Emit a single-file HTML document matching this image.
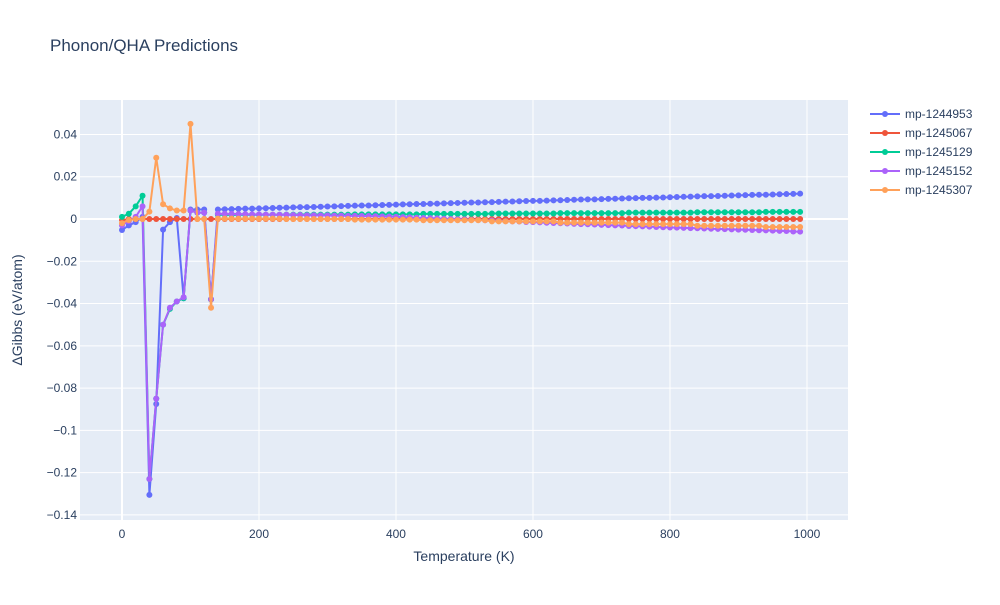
<!DOCTYPE html>
<html><head><meta charset="utf-8"><style>
body{margin:0;background:#fff;font-family:"Liberation Sans",Arial,sans-serif;}
svg text{font-family:"Liberation Sans",Arial,sans-serif;fill:#2a3f5f;}
</style></head><body>
<svg id="chart" width="1000" height="600" xmlns="http://www.w3.org/2000/svg">
<rect width="1000" height="600" fill="#fff"/>
<text x="50" y="51" font-size="17">Phonon/QHA Predictions</text>
<rect x="80" y="100" width="768" height="420" fill="#e5ecf6"/>
<g id="grid"></g><g id="series"></g><g id="ticks"></g>
<text x="464" y="561" font-size="14" text-anchor="middle">Temperature (K)</text>
<text transform="translate(22,310) rotate(-90)" font-size="14" text-anchor="middle">ΔGibbs (eV/atom)</text>
<g id="legend"></g>
</svg>
<script>
const seriesNames = ["mp-1244953","mp-1245067","mp-1245129","mp-1245152","mp-1245307"];
const seriesColors = ["#636efa","#EF553B","#00cc96","#ab63fa","#FFA15A"];
const xTicks = [0,200,400,600,800,1000];
const yTicks = [0.04,0.02,0,-0.02,-0.04,-0.06,-0.08,-0.1,-0.12,-0.14];
const yTickLabels = ["0.04","0.02","0","−0.02","−0.04","−0.06","−0.08","−0.1","−0.12","−0.14"];
const temps = [0,10,20,30,40,50,60,70,80,90,100,110,120,130,140,150,160,170,180,190,200,210,220,230,240,250,260,270,280,290,300,310,320,330,340,350,360,370,380,390,400,410,420,430,440,450,460,470,480,490,500,510,520,530,540,550,560,570,580,590,600,610,620,630,640,650,660,670,680,690,700,710,720,730,740,750,760,770,780,790,800,810,820,830,840,850,860,870,880,890,900,910,920,930,940,950,960,970,980,990];
const s1244953 = [-0.0052,-0.0030,-0.0015,0.0010,-0.1305,-0.0875,-0.0050,-0.0015,0.0005,-0.0375,0.0045,0.0045,0.0045,-0.0380,
0.0045,0.0046,0.0047,0.0048,0.0049,0.0049,0.0050,0.0051,0.0052,0.0053,0.0054,0.0055,0.0056,0.0056,0.0057,0.0058,0.0059,0.0060,0.0061,0.0062,0.0063,0.0064,0.0064,0.0065,0.0066,0.0067,0.0068,0.0069,0.0070,0.0071,0.0071,0.0072,0.0073,0.0074,0.0075,0.0076,0.0077,0.0078,0.0078,0.0079,0.0080,0.0081,0.0082,0.0083,0.0084,0.0085,0.0086,0.0086,0.0087,0.0088,0.0089,0.0090,0.0091,0.0092,0.0093,0.0093,0.0094,0.0095,0.0096,0.0097,0.0098,0.0099,0.0100,0.0100,0.0101,0.0102,0.0103,0.0104,0.0105,0.0106,0.0107,0.0108,0.0108,0.0109,0.0110,0.0111,0.0112,0.0113,0.0114,0.0115,0.0115,0.0116,0.0117,0.0118,0.0119,0.0120];
const s1245067 = [-0.0005,0,0,0,0,0,0,0,0,0,0,0,0,0,0,0,0,0,0,0,0,0,0,0,0,0,0,0,0,0,0,0,0,0,0,0,0,0,0,0,0,0,0,0,0,0,0,0,0,0,0,0,0,0,0,0,0,0,0,0,0,0,0,0,0,0,0,0,0,0,0,0,0,0,0,0,0,0,0,0,0,0,0,0,0,0,0,0,0,0,0,0,0,0,0,0,0,0,0,0];
const s1245129 = [0.0010,0.0025,0.0060,0.0110,-0.1230,-0.0850,-0.0500,-0.0425,-0.0390,-0.0375,0.0040,0.0030,0.0030,-0.0380,
0.0020,0.0020,0.0020,0.0020,0.0020,0.0020,0.0020,0.0020,0.0020,0.0020,
0.0021,0.0021,0.0021,0.0021,0.0021,0.0021,0.0021,0.0021,0.0021,0.0021,
0.0022,0.0022,0.0022,0.0022,0.0022,0.0022,0.0022,0.0022,0.0022,0.0022,
0.0024,0.0024,0.0024,0.0024,0.0024,0.0024,0.0024,0.0024,0.0024,0.0024,
0.0026,0.0026,0.0026,0.0026,0.0026,0.0026,0.0026,0.0026,0.0026,0.0026,
0.0028,0.0028,0.0028,0.0028,0.0028,0.0028,0.0028,0.0028,0.0028,0.0028,
0.0030,0.0030,0.0030,0.0030,0.0030,0.0030,0.0030,0.0030,0.0030,0.0030,
0.0032,0.0032,0.0032,0.0032,0.0032,0.0032,0.0032,0.0032,0.0032,0.0032,
0.0034,0.0034,0.0034,0.0034,0.0034,0.0034];
const s1245152 = [-0.0030,-0.0010,0.0010,0.0060,-0.1230,-0.0850,-0.0500,-0.0420,-0.0390,-0.0370,0.0040,0.0030,0.0030,-0.0380,
0.0025,0.0024,0.0024,0.0023,0.0023,0.0022,0.0022,0.0021,0.0021,0.0020,0.0020,0.0019,0.0019,0.0018,0.0018,0.0017,0.0017,0.0016,0.0016,0.0015,0.0015,0.0014,0.0014,0.0013,0.0012,0.0011,0.0010,
0.0009,0.0008,0.0006,0.0005,0.0004,0.0003,0.0001,0,-0.0001,-0.0002,-0.0004,-0.0005,-0.0006,-0.0007,-0.0009,-0.0010,-0.0011,-0.0012,-0.0014,-0.0015,
-0.0016,-0.0018,-0.0019,-0.0020,-0.0021,-0.0023,-0.0024,-0.0025,-0.0026,-0.0028,-0.0029,-0.0030,-0.0031,-0.0033,-0.0034,-0.0035,-0.0036,-0.0038,-0.0039,-0.0040,
-0.0041,-0.0042,-0.0043,-0.0044,-0.0045,-0.0046,-0.0047,-0.0048,-0.0049,-0.0050,-0.0051,-0.0052,-0.0053,-0.0054,-0.0055,-0.0056,-0.0057,-0.0059,-0.0060];
const s1245307 = [-0.0020,-0.0005,0.0000,0.0000,0.0035,0.0290,0.0070,0.0050,0.0040,0.0040,0.0450,0.0000,0.0000,-0.0420,
0.0002,0.0002,0.0002,0.0002,0.0002,0.0002,0.0002,0.0002,0.0002,0.0002,
0,0,0,0,0,0,0,0,0,0,
-0.0003,-0.0003,-0.0003,-0.0003,-0.0003,-0.0003,-0.0003,-0.0003,-0.0003,-0.0003,
-0.0006,-0.0006,-0.0006,-0.0006,-0.0006,-0.0006,-0.0006,-0.0006,-0.0006,-0.0006,
-0.0011,-0.0011,-0.0011,-0.0011,-0.0011,-0.0011,-0.0011,-0.0011,-0.0011,-0.0011,
-0.0017,-0.0017,-0.0017,-0.0017,-0.0017,-0.0017,-0.0017,-0.0017,-0.0017,-0.0017,
-0.0024,-0.0024,-0.0024,-0.0024,-0.0024,-0.0024,-0.0024,-0.0024,-0.0024,-0.0024,
-0.0032,-0.0032,-0.0032,-0.0032,-0.0032,-0.0032,-0.0032,-0.0032,-0.0032,-0.0032,
-0.0038,-0.0038,-0.0038,-0.0038,-0.0038,-0.0038];
const allSeries = [s1244953,s1245067,s1245129,s1245152,s1245307];

const NS="http://www.w3.org/2000/svg";
const X0=80,X1=848,Y0=100,Y1=520;
const xMin=-61.3,xMax=1059.9,yMin=-0.1424,yMax=0.0563;
function xs(v){return X0+(v-xMin)/(xMax-xMin)*(X1-X0);}
function ys(v){return Y1-(v-yMin)/(yMax-yMin)*(Y1-Y0);}
function mk(tag,attrs,parent){const e=document.createElementNS(NS,tag);for(const k in attrs)e.setAttribute(k,attrs[k]);parent.appendChild(e);return e;}
const grid=document.getElementById('grid'),ticks=document.getElementById('ticks');
xTicks.forEach((t,i)=>{
  const l=mk('line',{x1:xs(t),x2:xs(t),y1:Y0,y2:Y1,stroke:'#fff','stroke-width':t===0?2:1},grid);
  
  
  const tx=mk('text',{x:xs(t),y:Y1+18,'font-size':12,'text-anchor':'middle'},ticks);
  tx.textContent=String(t);
  
  
});
yTicks.forEach((t,i)=>{
  const l=mk('line',{x1:X0,x2:X1,y1:ys(t),y2:ys(t),stroke:'#fff','stroke-width':t===0?2:1},grid);
  
  
  const tx=mk('text',{x:X0-3,y:ys(t)+4,'font-size':12,'text-anchor':'end'},ticks);
  tx.textContent=yTickLabels[i];
  
  
});
const sg=document.getElementById('series'),lg=document.getElementById('legend');
allSeries.forEach((vals,si)=>{
  const g=mk('g',{},sg);
  
  
  const pts=vals.map((v,i)=>xs(temps[i]).toFixed(2)+','+ys(v).toFixed(2)).join(' ');
  const pl=mk('polyline',{points:pts,fill:'none',stroke:seriesColors[si],'stroke-width':2,'stroke-linejoin':'round'},g);
  
  
  vals.forEach((v,i)=>{
    const c=mk('circle',{cx:xs(temps[i]),cy:ys(v),r:3,fill:seriesColors[si]},g);
    
    
  });
  const ly=114+si*19;
  const le=mk('g',{},lg);
  
  
  mk('line',{x1:870,x2:900,y1:ly,y2:ly,stroke:seriesColors[si],'stroke-width':2},le);
  mk('circle',{cx:885,cy:ly,r:3,fill:seriesColors[si]},le);
  const t=mk('text',{x:905,y:ly+4,'font-size':12},le);
  t.textContent=seriesNames[si];
});
</script>
</body></html>
